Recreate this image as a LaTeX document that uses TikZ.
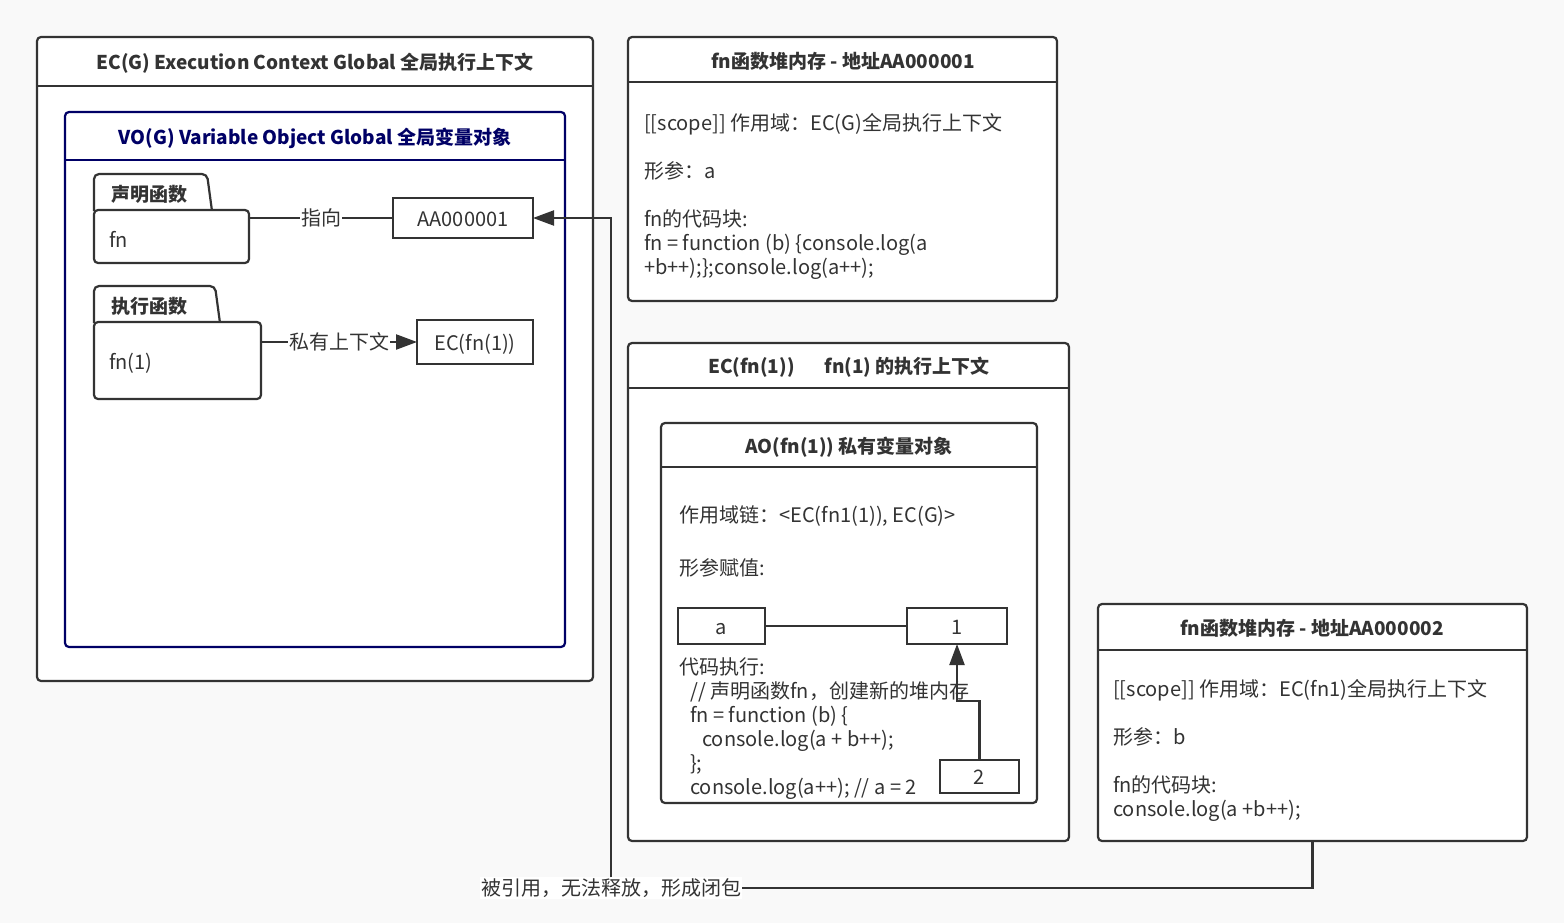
\documentclass[tikz,border=0pt]{standalone}
\usepackage{fontspec}
\setmainfont{Noto Sans CJK SC}
\usetikzlibrary{arrows.meta,calc}
\definecolor{ink}{HTML}{333333}
\definecolor{navy}{HTML}{000066}
\definecolor{bg}{HTML}{F9F9F9}
\tikzset{
  box/.style={draw=ink, line width=2.2pt, fill=white, rounded corners=4pt, inner sep=0pt, outer sep=0pt, anchor=north west},
  plainbox/.style={draw=ink, line width=2.6pt, fill=white, inner sep=0pt, outer sep=0pt, anchor=north west, font=\fontsize{20}{24}\selectfont, text=ink, text height=17pt, text depth=1pt},
  ttl/.style={font=\fontsize{19}{23}\selectfont\bfseries, text=ink, inner sep=0pt},
  txt/.style={font=\fontsize{20}{24}\selectfont, text=ink, align=left, inner sep=0pt},
  lbl/.style={font=\fontsize{20}{24}\selectfont, text=ink, fill=white, inner sep=1pt},
  conn/.style={draw=ink, line width=2.2pt},
  arr/.style={conn, -{Triangle[length=21pt,width=15pt]}},
  hline/.style={draw=ink, line width=2.2pt},
}
\begin{document}
\begin{tikzpicture}[x=1pt,y=-1pt]
\fill[bg] (0,0) rectangle (1564,923);
\useasboundingbox (0,0) rectangle (1564,923);

% ---------- EC(G) ----------
\node[box, minimum width=556pt, minimum height=644pt] (ecg) at (37,37) {};
\draw[hline] (ecg.west |- 0,86) -- (ecg.east |- 0,86);
\node[ttl] (ecgt) at (315,63) {EC(G) Execution Context Global 全局执行上下文};

% VO(G)
\node[box, draw=navy, minimum width=500pt, minimum height=535pt] (vog) at (65,112) {};
\draw[hline, draw=navy] (vog.west |- 0,160) -- (vog.east |- 0,160);
\node[ttl, text=navy] (vogt) at (315,138) {VO(G) Variable Object Global 全局变量对象};

% folder: 声明函数
\draw[conn, fill=white, rounded corners=5pt] (94,211) -- (94,174) -- (207,174) -- (212,211);
\node[box, minimum width=155pt, minimum height=53pt] (fnbody) at (94,210) {};
\node[ttl] (decl) at (149,194) {声明函数};
\node[txt, anchor=west] (fnname) at (109,239) {fn};

\node[plainbox, minimum width=140pt, minimum height=40pt] (aa) at (393,198) {AA000001};
\draw[conn] (fnbody.east |- aa.west) -- node[lbl] (zhi) {指向} (aa.west);

% folder: 执行函数
\draw[conn, fill=white, rounded corners=5pt] (94,323) -- (94,286) -- (215,286) -- (220,323);
\node[box, minimum width=167pt, minimum height=77pt] (callbody) at (94,322) {};
\node[ttl] (exec) at (149,306) {执行函数};
\node[txt, anchor=west] (callname) at (109,363) {fn(1)};

\node[plainbox, minimum width=116pt, minimum height=44pt] (ecfnref) at (417,320) {EC(fn(1))};
\draw[arr] (callbody.east |- ecfnref.west) -- node[lbl, pos=0.5] (priv) {私有上下文} (ecfnref.west);

% ---------- heap AA000001 ----------
\node[box, minimum width=429pt, minimum height=264pt] (heap1) at (628,37) {};
\draw[hline] (heap1.west |- 0,82) -- (heap1.east |- 0,82);
\node[ttl] (heap1t) at (843,61) {fn函数堆内存 - 地址AA000001};
\node[txt, anchor=north west] (heap1b) at (644,113) {[[scope]] 作用域：EC(G)全局执行上下文\\[24pt]形参：a\\[24pt]fn的代码块:\\fn = function (b) \{console.log(a\\+b++);\};console.log(a++);};

% ---------- EC(fn(1)) ----------
\node[box, minimum width=441pt, minimum height=498pt] (ecfn) at (628,343) {};
\draw[hline] (ecfn.west |- 0,388) -- (ecfn.east |- 0,388);
\node[ttl] (ecfnt) at (849,367) {EC(fn(1))\hspace{30pt}fn(1) 的执行上下文};

\node[box, minimum width=376pt, minimum height=380pt] (ao) at (661,423) {};
\draw[hline] (ao.west |- 0,467) -- (ao.east |- 0,467);
\node[ttl] (aot) at (849,447) {AO(fn(1)) 私有变量对象};
\node[txt, anchor=west] (chain) at (679,516) {作用域链：<EC(fn1(1)), EC(G)>};
\node[txt, anchor=west] (param) at (679,568) {形参赋值:};

\node[plainbox, minimum width=87pt, minimum height=36pt] (va) at (678,608) {a};
\node[plainbox, minimum width=100pt, minimum height=36pt] (one) at (907,608) {1};
\draw[conn] (va.east) -- (one.west);

\node[txt, anchor=north west] (code) at (679,657) {代码执行:\\\hspace{11pt}// 声明函数fn，创建新的堆内存\\\hspace{11pt}fn = function (b) \{\\\hspace{23pt}console.log(a + b++);\\\hspace{11pt}\};\\\hspace{11pt}console.log(a++); // a = 2};

\node[plainbox, minimum width=79pt, minimum height=33pt] (two) at (940,760) {2};
\draw[arr] (two.north) -- ++(0,-59) -| (one.south);

% ---------- heap AA000002 ----------
\node[box, minimum width=429pt, minimum height=237pt] (heap2) at (1098,604) {};
\draw[hline] (heap2.west |- 0,650) -- (heap2.east |- 0,650);
\node[ttl] (heap2t) at (1312,628) {fn函数堆内存 - 地址AA000002};
\node[txt, anchor=north west] (heap2b) at (1113,679) {[[scope]] 作用域：EC(fn1)全局执行上下文\\[24pt]形参：b\\[24pt]fn的代码块:\\console.log(a +b++);};

% ---------- closure connector ----------
\node[lbl] (clos) at (611,888) {被引用，无法释放，形成闭包};
\draw[conn] (heap2.south) |- (clos.east);
\draw[arr] (clos.north) |- (aa.east);
\end{tikzpicture}
\end{document}
